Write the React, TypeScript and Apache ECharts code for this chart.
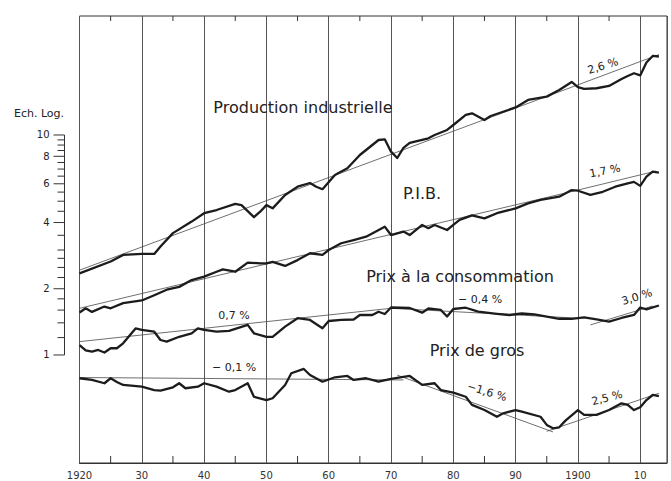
import React, { useEffect, useRef } from "react";
import * as echarts from "echarts";

// Axis / tick labels
const decadeYears = [1820, 1830, 1840, 1850, 1860, 1870, 1880, 1890, 1900, 1910];
const decadeLabels = ["1920", "30", "40", "50", "60", "70", "80", "90", "1900", "10"];
const halfDecadeYears = [1825, 1835, 1845, 1855, 1865, 1875, 1885, 1895, 1905];
const scaleTicks = [1, 1.2, 1.4, 1.6, 1.8, 2, 2.25, 2.5, 2.75, 3, 3.5, 4, 4.5, 5, 5.5, 6, 6.5, 7, 7.5, 8, 8.5, 9, 9.5, 10];
const scaleLabels = [1, 2, 4, 6, 8, 10];

// Series (year, index value on log scale)
const productionIndustrielle: [number, number][] = [
  [1820, 2.35], [1825, 2.66], [1827, 2.85], [1830, 2.88], [1832, 2.88], [1833, 3.11], [1835, 3.58],
  [1838, 4.04], [1840, 4.41], [1842, 4.56], [1845, 4.86], [1846, 4.8], [1848, 4.23], [1849, 4.48],
  [1850, 4.8], [1851, 4.64], [1853, 5.34], [1855, 5.82], [1857, 6.05], [1858, 5.82], [1859, 5.67],
  [1861, 6.58], [1863, 7.06], [1865, 8.11], [1868, 9.49], [1869, 9.56], [1870, 8.4], [1871, 7.86],
  [1872, 8.73], [1873, 9.2], [1876, 9.66], [1877, 10.0], [1879, 10.54], [1880, 11.1], [1882, 12.33],
  [1883, 12.55], [1885, 11.7], [1886, 12.2], [1890, 13.34], [1892, 14.43], [1895, 14.94], [1897, 16.02],
  [1899, 17.42], [1900, 16.5], [1901, 16.19], [1903, 16.31], [1905, 16.7], [1907, 17.97], [1908, 18.55],
  [1909, 19.08], [1910, 18.65], [1911, 21.36], [1912, 22.87], [1913, 22.74],
];
const pib: [number, number][] = [
  [1820, 1.56], [1821, 1.63], [1822, 1.57], [1824, 1.66], [1825, 1.63], [1827, 1.72], [1830, 1.77],
  [1832, 1.87], [1834, 1.98], [1836, 2.04], [1838, 2.19], [1840, 2.27], [1842, 2.39], [1843, 2.45],
  [1845, 2.39], [1847, 2.63], [1849, 2.61], [1850, 2.61], [1851, 2.65], [1853, 2.54], [1855, 2.7],
  [1857, 2.9], [1859, 2.85], [1860, 3.0], [1862, 3.22], [1864, 3.33], [1866, 3.45], [1869, 3.83],
  [1870, 3.51], [1872, 3.64], [1873, 3.51], [1875, 3.9], [1876, 3.77], [1877, 3.9], [1879, 3.7],
  [1880, 3.9], [1881, 4.11], [1883, 4.31], [1885, 4.18], [1887, 4.41], [1890, 4.64], [1892, 4.89],
  [1894, 5.07], [1897, 5.24], [1899, 5.62], [1900, 5.58], [1902, 5.34], [1904, 5.52], [1906, 5.82],
  [1908, 6.03], [1909, 6.12], [1910, 5.87], [1911, 6.47], [1912, 6.81], [1913, 6.74],
];
const prixConsommation: [number, number][] = [
  [1820, 1.11], [1821, 1.05], [1822, 1.035], [1823, 1.054], [1824, 1.026], [1825, 1.073], [1826, 1.073],
  [1827, 1.13], [1829, 1.32], [1830, 1.3], [1832, 1.276], [1833, 1.17], [1834, 1.15], [1836, 1.21],
  [1838, 1.255], [1839, 1.32], [1840, 1.3], [1842, 1.276], [1844, 1.286], [1847, 1.37], [1848, 1.255],
  [1850, 1.21], [1851, 1.21], [1853, 1.345], [1855, 1.47], [1857, 1.443], [1859, 1.322], [1860, 1.427],
  [1862, 1.443], [1864, 1.45], [1865, 1.52], [1867, 1.52], [1868, 1.573], [1869, 1.536], [1870, 1.644],
  [1873, 1.635], [1875, 1.557], [1876, 1.627], [1878, 1.602], [1879, 1.496], [1880, 1.618], [1882, 1.64],
  [1884, 1.573], [1887, 1.539], [1889, 1.52], [1891, 1.544], [1893, 1.528], [1895, 1.493], [1897, 1.461],
  [1899, 1.458], [1901, 1.481], [1903, 1.453], [1905, 1.417], [1907, 1.473], [1909, 1.52], [1910, 1.644],
  [1911, 1.613], [1913, 1.679],
];
const prixGros: [number, number][] = [
  [1820, 0.784], [1822, 0.77], [1824, 0.744], [1825, 0.784], [1826, 0.754], [1827, 0.731], [1830, 0.718],
  [1832, 0.693], [1833, 0.688], [1835, 0.713], [1836, 0.744], [1837, 0.706], [1839, 0.718], [1840, 0.744],
  [1842, 0.718], [1844, 0.681], [1845, 0.693], [1847, 0.744], [1848, 0.646], [1850, 0.624], [1851, 0.636],
  [1853, 0.731], [1854, 0.826], [1856, 0.864], [1857, 0.811], [1859, 0.756], [1861, 0.792], [1863, 0.803],
  [1864, 0.77], [1866, 0.784], [1868, 0.756], [1870, 0.778], [1873, 0.803], [1875, 0.731], [1877, 0.744],
  [1878, 0.693], [1880, 0.674], [1882, 0.646], [1883, 0.593], [1885, 0.562], [1887, 0.524], [1888, 0.543],
  [1890, 0.562], [1891, 0.553], [1894, 0.524], [1895, 0.481], [1896, 0.464], [1897, 0.469], [1898, 0.503],
  [1900, 0.562], [1901, 0.534], [1903, 0.534], [1905, 0.562], [1907, 0.603], [1908, 0.593], [1909, 0.562],
  [1910, 0.579], [1911, 0.624], [1912, 0.658], [1913, 0.65],
];

// Trend segments
const prodTrend1: [number, number][] = [[1820, 2.43], [1900, 16.9]];
const prodTrend2: [number, number][] = [[1900, 16.9], [1913, 23.2]];
const pibTrend1: [number, number][] = [[1820, 1.63], [1900, 5.62]];
const pibTrend2: [number, number][] = [[1900, 5.62], [1912.5, 6.85]];
const consoTrend1: [number, number][] = [[1820, 1.15], [1870, 1.63]];
const consoTrend2: [number, number][] = [[1870, 1.63], [1900, 1.47]];
const consoTrend3: [number, number][] = [[1902, 1.37], [1912, 1.67]];
const grosTrend1: [number, number][] = [[1820, 0.79], [1872, 0.77]];
const grosTrend2: [number, number][] = [[1871, 0.81], [1896, 0.447]];
const grosTrend3: [number, number][] = [[1895, 0.45], [1913, 0.67]];

const X_MIN = 1820;
const X_MAX = 1914.3;
const Y_MIN = 0.3229;
const Y_MAX = 34.74;

const FONT = '"DejaVu Sans", sans-serif';

export default function App() {
  const ref = useRef<HTMLDivElement>(null);
  useEffect(() => {
    if (!ref.current) return;
    const chart = echarts.init(ref.current, null, { renderer: "svg" });

    const thick = (name: string, data: [number, number][]) => ({
      type: "line",
      name,
      data,
      symbol: "none",
      silent: true,
      z: 4,
      lineStyle: { color: "#1c1c1c", width: 2.3, join: "round" },
    });
    const thin = (data: [number, number][]) => ({
      type: "line",
      data,
      symbol: "none",
      silent: true,
      z: 3,
      lineStyle: { color: "#4a4a4a", width: 0.8 },
    });

    const txt = (text: string, x: number, y: number, size: number, rotation = 0) => ({
      type: "text",
      x,
      y,
      rotation,
      silent: true,
      z: 10,
      style: {
        text,
        x: 0,
        y: 0,
        font: `${size}px ${FONT}`,
        fill: "#222",
        align: "center",
        verticalAlign: "middle",
        textAlign: "center",
        textVerticalAlign: "middle",
      },
    });

    chart.setOption({
      animation: false,
      backgroundColor: "#ffffff",
      grid: {
        left: 79.5,
        right: 4,
        top: 16,
        bottom: 18,
        show: true,
        borderColor: "#333",
        borderWidth: 1,
        backgroundColor: "transparent",
      },
      xAxis: {
        type: "value",
        min: X_MIN,
        max: X_MAX,
        interval: 10,
        axisLine: { show: true, lineStyle: { color: "#333", width: 1 } },
        axisTick: { show: false },
        splitLine: { show: true, lineStyle: { color: "#555", width: 1 } },
        axisLabel: {
          fontFamily: FONT,
          fontSize: 10,
          color: "#333",
          margin: 7,
          showMaxLabel: false,
          formatter: (v: number) => {
            const i = decadeYears.indexOf(Math.round(v * 1000) / 1000);
            return i >= 0 ? decadeLabels[i] : "";
          },
        },
      },
      yAxis: {
        type: "log",
        logBase: 10,
        min: Y_MIN,
        max: Y_MAX,
        show: false,
        splitLine: { show: false },
      },
      series: [
        thin(prodTrend1),
        thin(prodTrend2),
        thin(pibTrend1),
        thin(pibTrend2),
        thin(consoTrend1),
        thin(consoTrend2),
        thin(consoTrend3),
        thin(grosTrend1),
        thin(grosTrend2),
        thin(grosTrend3),
        thick("Production industrielle", productionIndustrielle),
        thick("P.I.B.", pib),
        thick("Prix à la consommation", prixConsommation),
        thick("Prix de gros", prixGros),
        {
          type: "custom",
          coordinateSystem: "cartesian2d",
          clip: false,
          silent: true,
          data: halfDecadeYears.map((y) => [y, Y_MIN]),
          renderItem: (_params: any, api: any) => {
            const x = api.value(0);
            const b = api.coord([x, Y_MIN]);
            const t = api.coord([x, Y_MAX]);
            return {
              type: "group",
              children: [
                { type: "line", shape: { x1: b[0], y1: b[1], x2: b[0], y2: b[1] - 7 }, style: { stroke: "#333", lineWidth: 1 } },
                { type: "line", shape: { x1: t[0], y1: t[1], x2: t[0], y2: t[1] + 5 }, style: { stroke: "#333", lineWidth: 1 } },
              ],
            };
          },
        },
        {
          type: "custom",
          coordinateSystem: "cartesian2d",
          clip: false,
          silent: true,
          data: scaleTicks.map((v) => [X_MIN, v]),
          renderItem: (params: any, api: any) => {
            const v = api.value(1);
            const p = api.coord([X_MIN, v]);
            const major = scaleLabels.indexOf(v) >= 0;
            const barX = p[0] - 15;
            const children: any[] = [
              {
                type: "line",
                shape: { x1: barX - (major ? 11 : 7), y1: p[1], x2: barX, y2: p[1] },
                style: { stroke: "#333", lineWidth: 1 },
              },
            ];
            if (major) {
              children.push({
                type: "text",
                style: {
                  text: String(v),
                  x: barX - 15,
                  y: p[1],
                  font: `10px ${FONT}`,
                  fill: "#222",
                  align: "right",
                  verticalAlign: "middle",
                  textAlign: "right",
                  textVerticalAlign: "middle",
                },
              });
            }
            if (params.dataIndex === 0) {
              const top = api.coord([X_MIN, 10]);
              children.push({
                type: "line",
                shape: { x1: barX, y1: p[1], x2: barX, y2: top[1] },
                style: { stroke: "#333", lineWidth: 1 },
              });
            }
            return { type: "group", children };
          },
        },
      ],
      graphic: [
        txt("Ech. Log.", 39, 113, 11),
        txt("Production industrielle", 303, 107, 16),
        txt("P.I.B.", 422, 193, 16),
        txt("Prix à la consommation", 460, 276, 16),
        txt("Prix de gros", 477, 350, 16),
        txt("0,7 %", 234, 315, 11),
        txt("− 0,1 %", 234, 367, 11),
        txt("− 0,4 %", 480, 299, 11),
        txt("2,6 %", 603, 66, 11, 0.3),
        txt("1,7 %", 605, 171, 11, 0.2),
        txt("3,0 %", 637, 297, 11, 0.3),
        txt("−1,6 %", 487, 392, 11, -0.3),
        txt("2,5 %", 607, 398, 11, 0.25),
      ],
    });

    return () => chart.dispose();
  }, []);

  return (
    <div
      ref={ref}
      style={{ position: "absolute", left: 0, top: 0, width: 671, height: 481, background: "#fff" }}
    />
  );
}
